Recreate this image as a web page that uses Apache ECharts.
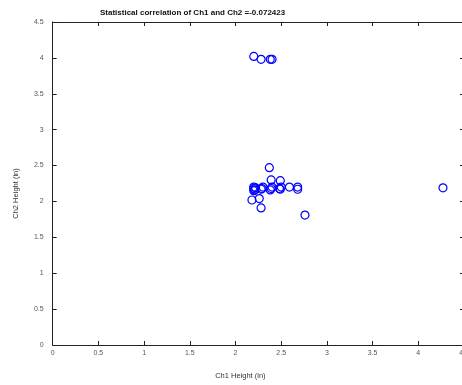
<!DOCTYPE html>
<html>
<head>
<meta charset="utf-8">
<script src="https://cdn.jsdelivr.net/npm/echarts@6/dist/echarts.min.js"></script>
<style>
  html, body { margin: 0; padding: 0; background: #fff; }
  #chart { width: 462px; height: 385px; }
</style>
</head>
<body>
<div id="chart"></div>
<script>
// Ch1 height (x) and Ch2 height (y)
const ch1 = [
  2.20, 2.28, 2.38, 2.40,
  2.37, 2.39, 2.49,
  2.20, 2.20, 2.21, 2.20, 2.22,
  2.29, 2.30, 2.28,
  2.39, 2.40, 2.38,
  2.48, 2.50, 2.49,
  2.59, 2.68, 2.68,
  2.18, 2.26, 2.28, 2.76,
  4.27,
]
const ch2 = [
  4.02, 3.98, 3.98, 3.98,
  2.47, 2.30, 2.29,
  2.18, 2.20, 2.16, 2.15, 2.19,
  2.18, 2.20, 2.17,
  2.18, 2.20, 2.16,
  2.18, 2.20, 2.17,
  2.20, 2.20, 2.17,
  2.02, 2.04, 1.91, 1.81,
  2.19,
]
const xTicks = [0, 0.5, 1, 1.5, 2, 2.5, 3, 3.5, 4, 4.5]
const yTicks = [0, 0.5, 1, 1.5, 2, 2.5, 3, 3.5, 4, 4.5]
const titleText = 'Statistical correlation of Ch1 and Ch2 =-0.072423'

const points = ch1.map((x, i) => [x, ch2[i]])

const chart = echarts.init(document.getElementById('chart'))

const lineStyle = { color: '#222', width: 1 }
const labelStyle = {
  color: '#555',
  fontSize: 7,
  fontFamily: 'Liberation Sans',
}

const baseAxis = {
  type: 'value',
  min: 0,
  max: 4.5,
  interval: 0.5,
  splitLine: { show: false },
  axisLine: { show: true, onZero: false, lineStyle: lineStyle },
  axisTick: { show: true, inside: true, length: 4, lineStyle: lineStyle },
}

const option = {
  backgroundColor: '#fff',
  animation: false,
  title: {
    text: titleText,
    left: 95,
    top: 4,
    textStyle: {
      fontSize: 8,
      fontWeight: 'bold',
      color: '#111',
      fontFamily: 'Liberation Sans',
    },
  },
  grid: {
    left: 52.7,
    right: -2,
    top: 22,
    bottom: 40,
    outerBoundsMode: 'none',
    containLabel: false,
  },
  xAxis: [
    {
      ...baseAxis,
      position: 'bottom',
      name: 'Ch1 Height (in)',
      nameLocation: 'middle',
      nameGap: 27,
      nameTextStyle: {
        color: '#333',
        fontSize: 7.5,
        fontFamily: 'Liberation Sans',
        padding: [0, 36, 0, 0],
      },
      axisLabel: {
        ...labelStyle,
        margin: 5,
        formatter: (v) => (xTicks.includes(v) ? String(v) : ''),
      },
    },
    {
      ...baseAxis,
      position: 'top',
      axisLabel: { show: false },
    },
  ],
  yAxis: [
    {
      ...baseAxis,
      position: 'left',
      name: 'Ch2 Height (in)',
      nameLocation: 'middle',
      nameGap: 33,
      nameTextStyle: {
        color: '#333',
        fontSize: 7.5,
        fontFamily: 'Liberation Sans',
        padding: [0, 20, 0, 0],
      },
      axisLabel: {
        ...labelStyle,
        margin: 9,
        formatter: (v) => (yTicks.includes(v) ? String(v) : ''),
      },
    },
    {
      ...baseAxis,
      position: 'right',
      axisLabel: { show: false },
    },
  ],
  series: [
    {
      type: 'scatter',
      data: points,
      symbol: 'circle',
      symbolSize: 8,
      itemStyle: {
        color: 'rgba(0,0,0,0)',
        borderColor: '#0000ff',
        borderWidth: 1.2,
        opacity: 1,
      },
    },
  ],
}

chart.setOption(option)
</script>
</body>
</html>
